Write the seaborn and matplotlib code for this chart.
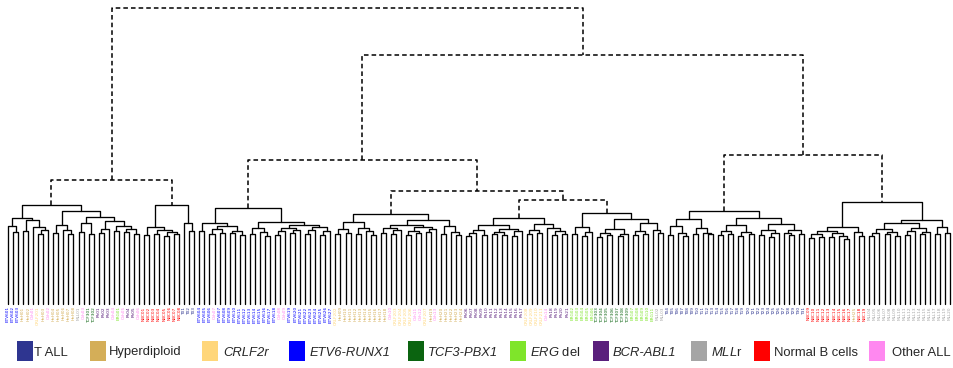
import re
import matplotlib
matplotlib.use("Agg")
import matplotlib.pyplot as plt
from matplotlib.patches import Rectangle
import seaborn as sns

# ---- subtype of every sample, in leaf order (one string per top-level cluster)
CODES_A = "EEEHHOCHOHHHHHMOPPBBBOGOBBO"
CODES_B = "NNNNNNNNTTT"
CODES_C = "EEEOEEEEEEEEEEEEOOEEEEEEEEE"
CODES_D = "CHHHHHHHHHHOCCCCOOCHOHHHHH"
CODES_E = "BBBBBBBBBBBBCCCCOBBBB"
CODES_F = "GGGGGPPPPPPPGGGGGMM"
CODES_G = "TTTTTTTTTTTTTTTTTTTTTTTTTTTT"
CODES_H = "NNNNNNNNNHNN"
CODES_I = "MMMMMMMMMMMMMMMMM"

# ---- merge structure: "x" = sample, "(a,b)h" = merge of a and b at distance h
CLUSTER_A = ("((x,(x,x).243).262,((x,x).247,(x,((x,x).238,x).251).259).284).291")
CLUSTER_A2 = ("(((x,x).241,(x,(x,x).236).25).267,"
              "(((x,x).244,(x,x).235).272,"
              "(((x,x).239,x).255,((x,x).246,((x,x).242,(x,x).237).252).262).279).294).314")
CLUSTER_B = ("(((x,x).232,((x,x).238,((x,x).229,(x,x).235).244).251).260,"
             "(x,(x,x).247).274).334")
CLUSTER_C = ("(((x,x).245,(((x,x).236,(x,x).241).252,((x,x).239,(x,x).233).248).262).274,"
             "(((x,x).238,(x,(x,x).231).244).256,"
             "((((x,x).234,x).247,((x,x).240,x).249).258,"
             "(((x,x).237,x).251,((x,x).232,x).246).260).266).277).324")
CLUSTER_D = ("((((x,x).235,(x,x).241).253,((x,x).238,(x,(x,x).233).247).258).277,"
             "((((x,x).241,((x,x).236,x).249).257,"
             "(((x,x).233,(x,x).239).248,((x,x).244,x).252).261).268,"
             "((x,x).237,(x,(x,x).232).243).263).284).304")
CLUSTER_E = ("(((((x,x).229,x).241,(x,x).234).249,"
             "(((x,x).236,(x,x).233).244,((x,x).230,x).247).255).267,"
             "(((x,x).235,(x,x).239).251,(x,((x,x).233,(x,x).237).246).258).270).291")
CLUSTER_F = ("(((x,x).236,((x,x).231,x).244).259,"
             "((((x,x).228,(x,x).233).240,((x,x).231,x).238).252,"
             "(((x,x).234,(x,x).238).246,(x,(x,x).241).250).274).287).307")
CLUSTER_G = ("((((x,x).233,(x,(x,x).229).240).262,((x,x).237,(x,(x,x).235).241).258).287,"
             "((((x,x).232,(x,x).236).245,((x,x).229,(x,x).238).243).266,"
             "(((x,x).234,((x,x).228,x).239).249,((x,(x,x).232).241,(x,x).237).251).270).291).314")
CLUSTER_H = ("((((x,x).222,(x,x).227).235,((x,x).225,(x,(x,x).220).231).239).247,"
             "(x,(x,x).229).243).260")
CLUSTER_I = ("(((((x,x).231,x).240,((x,x).236,(x,x).229).243).254,"
             "(((x,x).233,x).245,((x,x).238,x).242).257).272,"
             "((x,x).236,(x,x).241).259).284")

# upper levels of the tree
TOP = "(((A,Q).334,B).419,((C,(D,(E,F).351).382).486,(G,(H,I).345).503).841)1.0"
PARTS = {"A": CLUSTER_A, "Q": CLUSTER_A2, "B": CLUSTER_B, "C": CLUSTER_C,
         "D": CLUSTER_D, "E": CLUSTER_E, "F": CLUSTER_F, "G": CLUSTER_G,
         "H": CLUSTER_H, "I": CLUSTER_I}

DASH_ABOVE = 0.348  # merges above this distance are drawn dashed

PALETTE = {"T": "#2E3590", "H": "#D4AE58", "C": "#FFD67A", "E": "#0000FF",
           "P": "#0B6410", "G": "#7FE52A", "B": "#5A1F7C", "M": "#A5A5A5",
           "N": "#FF0000", "O": "#FF88F0"}
PREFIX = {"T": "T", "H": "HeH", "C": "CRLF2", "E": "ETV6", "P": "TCF3",
          "G": "ERG", "B": "Ph", "M": "MLL", "N": "NBC", "O": "Oth"}

LEGEND_CODES = ["T", "H", "C", "E", "P", "G", "B", "M", "N", "O"]
LEGEND_LABELS = ["T ALL", "Hyperdiploid", "CRLF2r", "ETV6-RUNX1", "TCF3-PBX1",
                 r"$\mathit{ERG}$ del", "BCR-ABL1", r"$\mathit{MLL}$r",
                 "Normal B cells", "Other ALL"]
LEGEND_STYLE = ["normal", "normal", "italic", "italic", "italic",
                "normal", "italic", "normal", "normal", "normal"]
LEGEND_BOX_X = [17, 90, 202, 289, 408, 510, 593, 691, 754, 869]
LEGEND_TEXT_X = [34, 109, 223, 310, 428, 530, 613, 711, 774, 892]

codes = (CODES_A + CODES_B + CODES_C + CODES_D + CODES_E + CODES_F
         + CODES_G + CODES_H + CODES_I)

tree_str = re.sub(r"[A-Z]", lambda m: PARTS[m.group()], TOP)


def parse(s, i):
    if s[i] == "x":
        return None, i + 1
    left, i = parse(s, i + 1)
    right, i = parse(s, i + 1)
    m = re.match(r"[0-9.]+", s[i + 1:])
    return (float(m.group()), left, right), i + 1 + len(m.group())


tree, _ = parse(tree_str, 0)

segments = []
leaf_counter = [0]


def layout(node):
    if node is None:
        k = leaf_counter[0]
        leaf_counter[0] += 1
        return float(k), 0.0
    h, l, r = node
    xl, hl = layout(l)
    xr, hr = layout(r)
    segments.append(([xl, xl, xr, xr], [hl, h, h, hr], h > DASH_ABOVE))
    return (xl + xr) / 2.0, h


layout(tree)
n_leaves = leaf_counter[0]
assert n_leaves == len(codes), (n_leaves, len(codes))

sns.set_theme(style="white")
plt.rcParams["font.family"] = ["Liberation Sans", "DejaVu Sans"]
plt.rcParams["mathtext.fontset"] = "custom"
plt.rcParams["mathtext.rm"] = "Liberation Sans"
plt.rcParams["mathtext.it"] = "Liberation Sans:italic"

W, H = 954, 368
fig = plt.figure(figsize=(W / 100, H / 100), dpi=100)
fig.patch.set_facecolor("white")
ax = fig.add_axes([0, 0, 1, 1])
ax.axis("off")

first_px, last_px, base_px, top_px = 8.0, 950.0, 304.0, 8.0
step = (last_px - first_px) / (n_leaves - 1)
ax.set_xlim(-first_px / step, (W - first_px) / step)
ax.set_ylim((base_px - H) / (base_px - top_px), base_px / (base_px - top_px))

for xs, ys, dashed in segments:
    if dashed:
        ax.plot(xs, ys, color="black", lw=1.1, ls=(0, (3, 2)), solid_capstyle="butt")
    else:
        ax.plot(xs, ys, color="black", lw=0.95)

counts = {}
for i, c in enumerate(codes):
    counts[c] = counts.get(c, 0) + 1
    ax.text(i, -0.008, f"{PREFIX[c]}{counts[c]:02d}", rotation=90, ha="center", va="top",
            fontsize=3.1, color=PALETTE[c], family="DejaVu Sans")

# legend along the bottom
lax = fig.add_axes([0, 0, 1, 1])
lax.set_xlim(0, W)
lax.set_ylim(H, 0)
lax.axis("off")
for code, label, style, bx, tx in zip(LEGEND_CODES, LEGEND_LABELS, LEGEND_STYLE,
                                      LEGEND_BOX_X, LEGEND_TEXT_X):
    lax.add_patch(Rectangle((bx, 341), 16, 20, facecolor=PALETTE[code], edgecolor="none"))
    lax.text(tx, 355.5, label, fontsize=9.4, style=style, va="baseline", ha="left")

fig.savefig("out.png", dpi=100, facecolor="white")
